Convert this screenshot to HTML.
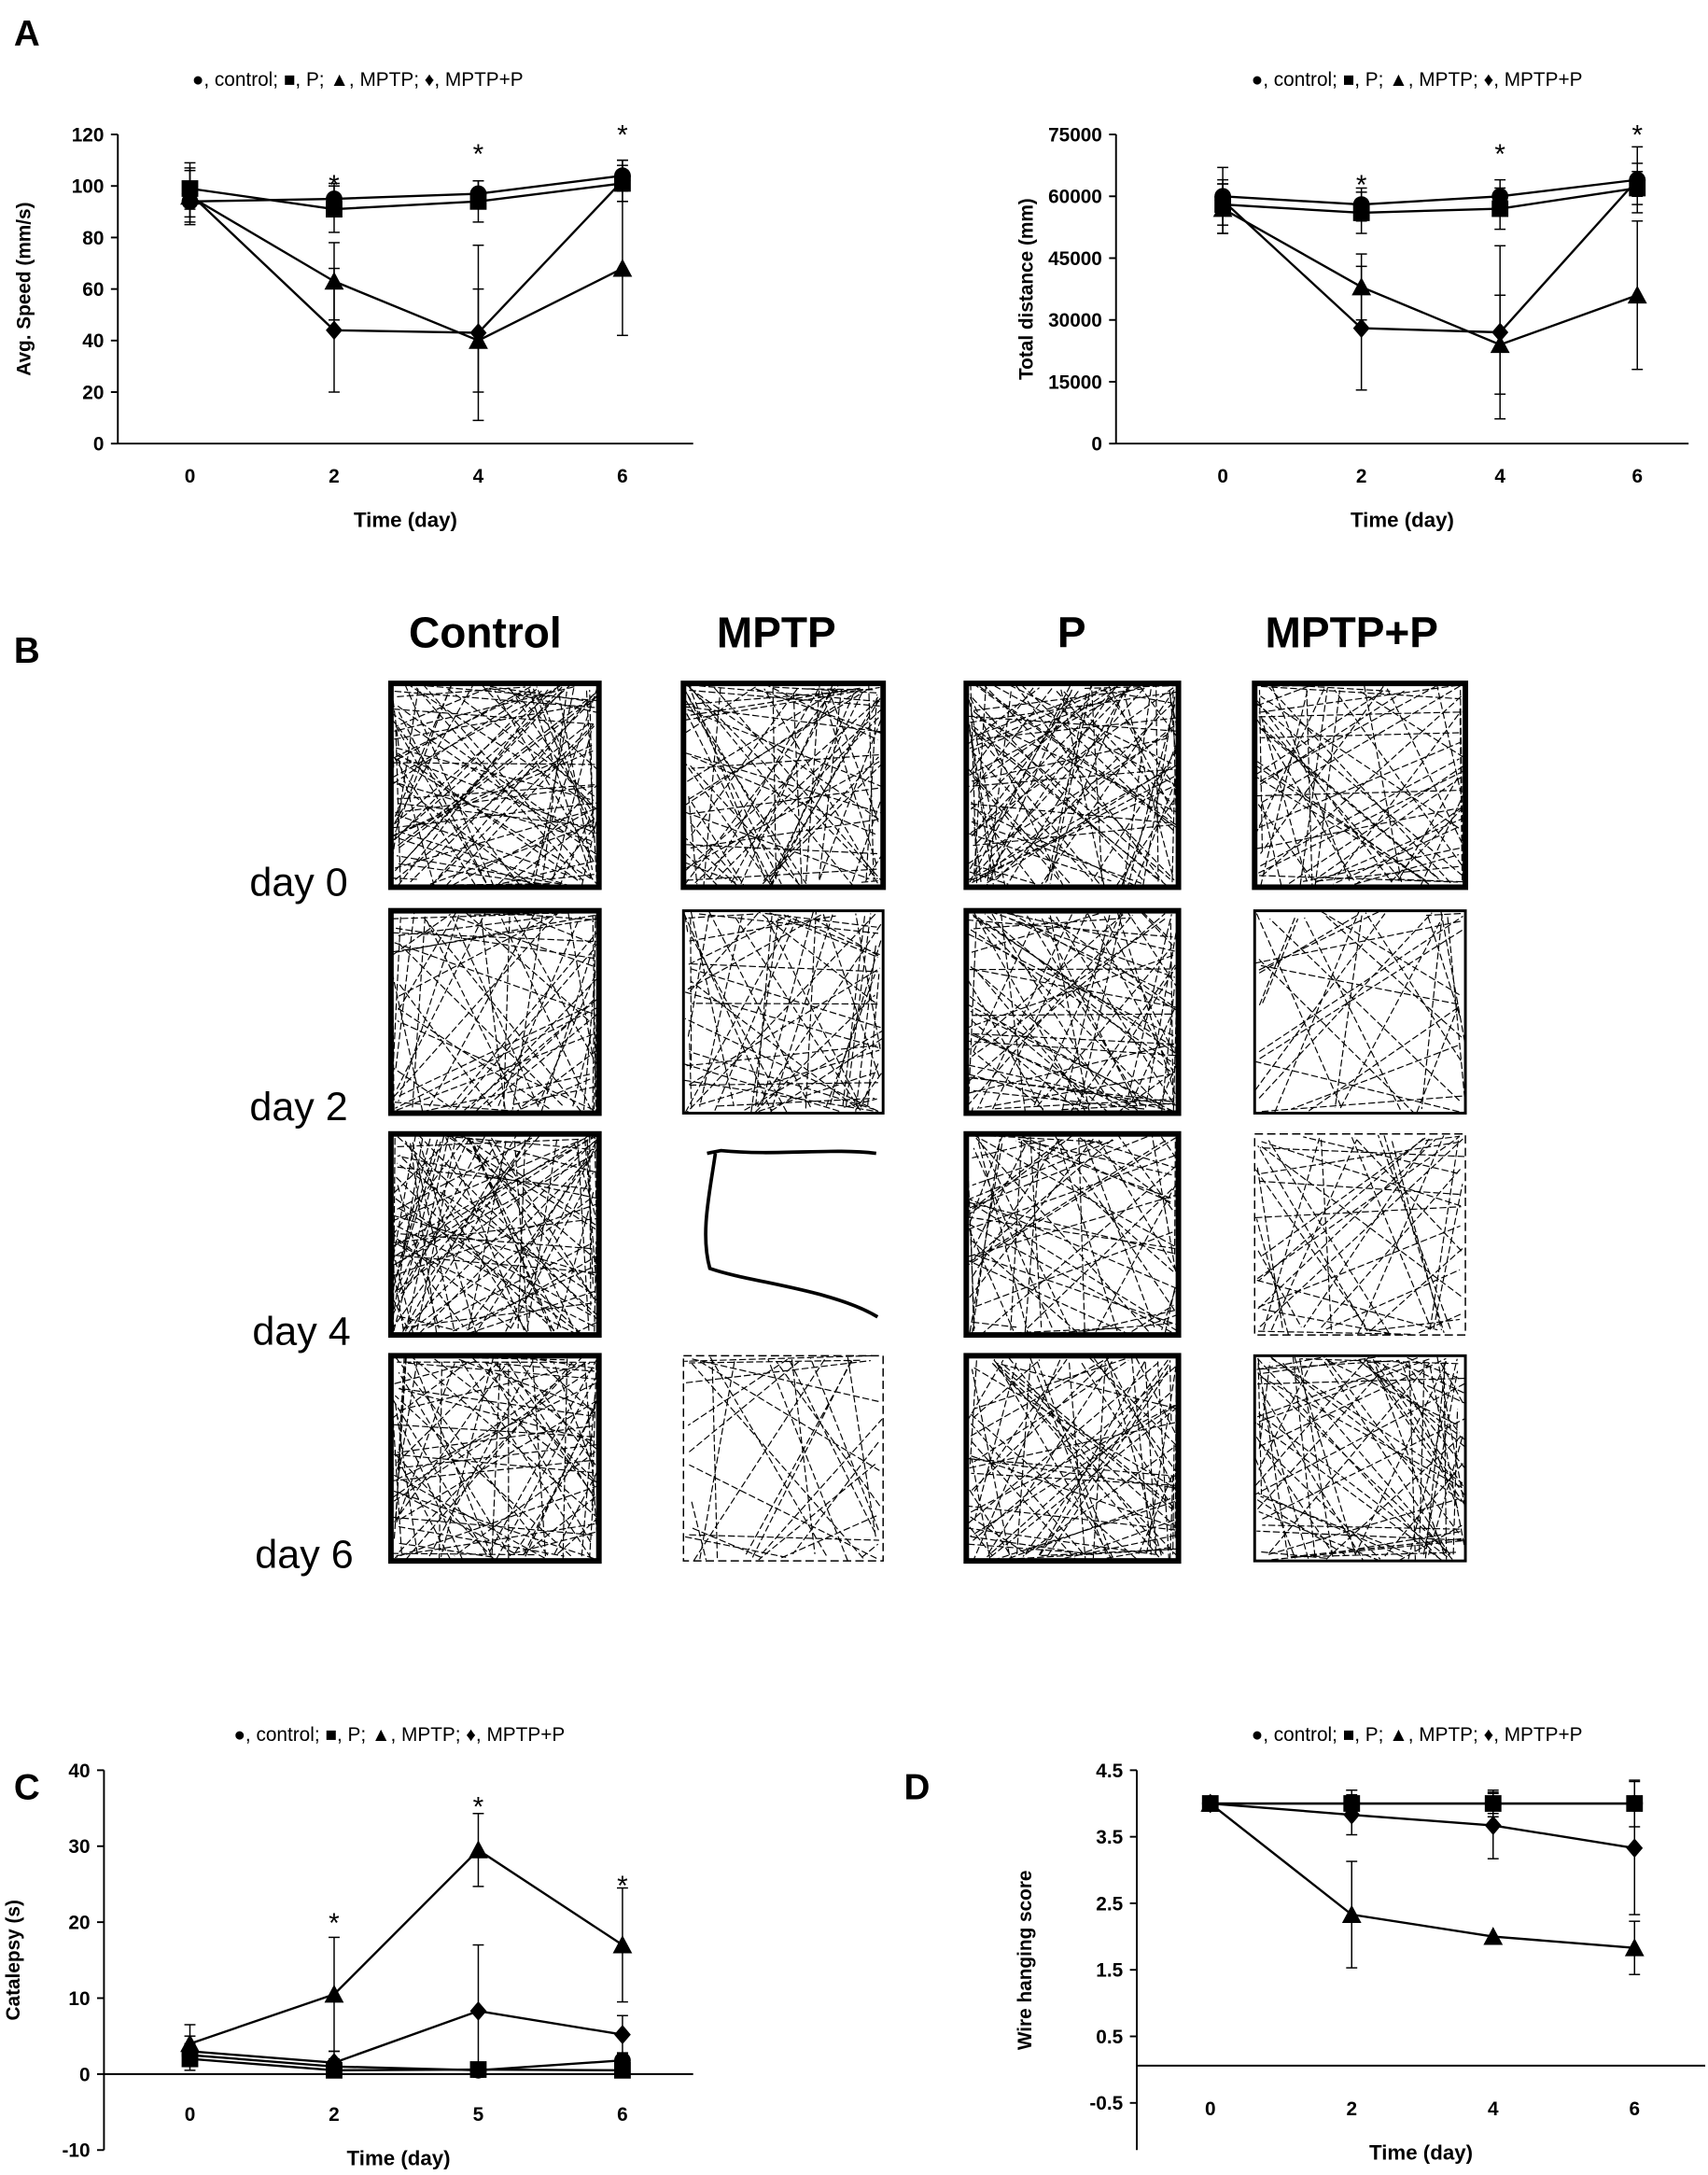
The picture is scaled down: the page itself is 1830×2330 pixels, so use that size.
<!DOCTYPE html>
<html><head><meta charset="utf-8"><style>
html,body{margin:0;padding:0;background:#fff}
svg{display:block}
text{font-family:"Liberation Sans",Arial,sans-serif}
</style></head><body>
<svg id="s" xmlns="http://www.w3.org/2000/svg" width="1830" height="2330" viewBox="0 0 1232 1569" preserveAspectRatio="none">
<rect width="1232" height="1569" fill="#fff"/>
<text x="10" y="33" font-size="26" font-weight="bold">A</text>
<text x="10" y="478" font-size="26" font-weight="bold">B</text>
<text x="10" y="1298" font-size="26" font-weight="bold">C</text>
<text x="652" y="1298" font-size="26" font-weight="bold">D</text>
<text x="350" y="467" font-size="31" font-weight="bold" text-anchor="middle">Control</text>
<text x="560" y="467" font-size="31" font-weight="bold" text-anchor="middle">MPTP</text>
<text x="773" y="467" font-size="31" font-weight="bold" text-anchor="middle">P</text>
<text x="975" y="467" font-size="31" font-weight="bold" text-anchor="middle">MPTP+P</text>
<text x="180" y="646" font-size="29">day 0</text>
<text x="180" y="808" font-size="29">day 2</text>
<text x="182" y="970" font-size="29">day 4</text>
<text x="184" y="1131" font-size="29">day 6</text>
<g id="g"></g>
</svg>
<script>
var out='';
function T(x,y,t,o){o=o||{};out+='<text x="'+x+'" y="'+y+'" font-size="'+(o.fs||14)+'" '+(o.b?'font-weight="bold" ':'')+'text-anchor="'+(o.a||'middle')+'"'+(o.r?' transform="rotate(-90 '+x+' '+y+')"':'')+'>'+t+'</text>';}
function L(x1,y1,x2,y2,w){out+='<line x1="'+x1+'" y1="'+y1+'" x2="'+x2+'" y2="'+y2+'" stroke="#000" stroke-width="'+(w||1.3)+'"/>';}
function M(x,y,k){
 if(k=='c')out+='<circle cx="'+x+'" cy="'+y+'" r="6"/>';
 else if(k=='s')out+='<rect x="'+(x-6)+'" y="'+(y-6)+'" width="12" height="12"/>';
 else if(k=='t')out+='<polygon points="'+x+','+(y-7)+' '+(x+7)+','+(y+6)+' '+(x-7)+','+(y+6)+'"/>';
 else out+='<polygon points="'+x+','+(y-7)+' '+(x+6)+','+y+' '+x+','+(y+7)+' '+(x-6)+','+y+'"/>';}
function chart(c){
 var ax=c.ax,top=c.top,bot=c.bot;
 var Y=function(v){return top+(c.ymax-v)/(c.ymax-c.ymin)*(bot-top);};
 L(ax,top,ax,c.axBot||bot);
 L(ax,Y(c.xAt),c.xEnd,Y(c.xAt));
 c.yt.forEach(function(v){var y=Y(v);L(ax-5,y,ax,y);T(ax-10,y+5,v,{a:'end',b:1});});
 c.xs.forEach(function(x,i){T(x,c.xlY||(Y(c.xAt)+28),c.xl[i],{b:1});});
 T((ax+c.xEnd)/2,c.tY,'Time (day)',{b:1,fs:15});
 T(c.ytx,(top+(c.axBot||bot))/2,c.ytitle,{b:1,r:1,fs:14});
 T(c.legx,c.legy,'●, control; ■, P; ▲, MPTP; ♦, MPTP+P',{fs:14});
 c.series.forEach(function(s){
  var pts=s.v.map(function(v,i){return c.xs[i]+','+Y(v);}).join(' ');
  out+='<polyline points="'+pts+'" fill="none" stroke="#000" stroke-width="1.6"/>';
  s.v.forEach(function(v,i){var e=s.e[i];if(e){var x=c.xs[i];L(x,Y(v-e),x,Y(v+e),1);L(x-4,Y(v-e),x+4,Y(v-e),1);L(x-4,Y(v+e),x+4,Y(v+e),1);}M(c.xs[i],Y(v),s.k);});
 });
 (c.stars||[]).forEach(function(s){T(s[0],s[1],'*',{fs:20});});
}
chart({ax:85,top:97,bot:320,ymin:0,ymax:120,xAt:0,xEnd:500,yt:[0,20,40,60,80,100,120],xs:[137,241,345,449],xl:[0,2,4,6],tY:380,ytx:22,ytitle:'Avg. Speed (mm/s)',legx:258,legy:62,
 series:[{k:'c',v:[94,95,97,104],e:[6,6,5,6]},{k:'s',v:[99,91,94,101],e:[8,9,8,7]},{k:'t',v:[96,63,40,68],e:[10,15,20,26]},{k:'d',v:[97,44,43,102],e:[12,24,34,8]}],
 stars:[[241,140],[345,118],[449,104]]});
chart({ax:805,top:97,bot:320,ymin:0,ymax:75000,xAt:0,xEnd:1218,yt:[0,15000,30000,45000,60000,75000],xs:[882,982,1082,1181],xl:[0,2,4,6],tY:380,ytx:745,ytitle:'Total distance (mm)',legx:1022,legy:62,
 series:[{k:'c',v:[60000,58000,60000,64000],e:[4000,4000,4000,4000]},{k:'s',v:[58000,56000,57000,62000],e:[5000,5000,5000,4000]},{k:'t',v:[57000,38000,24000,36000],e:[6000,8000,12000,18000]},{k:'d',v:[59000,28000,27000,64000],e:[8000,15000,21000,8000]}],
 stars:[[982,140],[1082,118],[1181,104]]});
chart({ax:75,top:1277,bot:1551,ymin:-10,ymax:40,xAt:0,xEnd:500,yt:[-10,0,10,20,30,40],xs:[137,241,345,449],xl:[0,2,5,6],xlY:1530,tY:1562,ytx:14,ytitle:'Catalepsy (s)',legx:288,legy:1256,
 series:[{k:'c',v:[2.5,1,0.5,1.8],e:[1.5,1,0.5,1]},{k:'s',v:[2,0.5,0.6,0.5],e:[1.5,0.5,0.5,0.5]},{k:'t',v:[4,10.5,29.5,17],e:[2.5,7.5,4.8,7.5]},{k:'d',v:[3,1.5,8.3,5.2],e:[2,1.5,8.7,2.5]}],
 stars:[[241,1394],[345,1310],[449,1367]]});
chart({ax:820,top:1277,bot:1517,axBot:1551,ymin:-0.5,ymax:4.5,xAt:0.06,xEnd:1230,yt:[-0.5,0.5,1.5,2.5,3.5,4.5],xs:[873,975,1077,1179],xl:[0,2,4,6],xlY:1526,tY:1558,ytx:744,ytitle:'Wire hanging score',legx:1022,legy:1256,
 series:[{k:'c',v:[4,4,4,4],e:[0,0.2,0.2,0]},{k:'s',v:[4,4,4,4],e:[0,0.2,0.15,0.35]},{k:'t',v:[4,2.33,2,1.83],e:[0,0.8,0,0.4]},{k:'d',v:[4,3.83,3.67,3.33],e:[0,0.3,0.5,1]}]});
var seed=7;function R(){seed=(seed*16807)%2147483647;return seed/2147483647;}
var cols=[[282,432],[493,637],[697,850],[905,1057]],rows=[[493,640],[657,803],[818,963],[978,1126]];
var dens=[[90,70,90,60],[60,60,75,30],[90,0,65,40],[80,30,75,75]];
rows.forEach(function(r,ri){cols.forEach(function(c,ci){
 var n=dens[ri][ci];
 var x0=c[0],x1=c[1],y0=r[0],y1=r[1];
 if(n==0){out+='<path d="M510,832 L520,830 C560,834 600,828 632,832 M516,832 C512,860 505,890 512,915 C540,925 600,930 633,950" fill="none" stroke="#000" stroke-width="2.5"/>';return;}
 var bw=(ri==0||ci==2||ci==0)?4:2;
 if(!(ci==1&&ri==3)&&!(ci==3&&ri==2))out+='<rect x="'+x0+'" y="'+y0+'" width="'+(x1-x0)+'" height="'+(y1-y0)+'" fill="none" stroke="#000" stroke-width="'+bw+'"/>';
 else out+='<rect x="'+x0+'" y="'+y0+'" width="'+(x1-x0)+'" height="'+(y1-y0)+'" fill="none" stroke="#000" stroke-width="1" stroke-dasharray="6 3"/>';
 var d='';for(var i=0;i<n;i++){
  var e1=Math.floor(R()*4),e2=(e1+1+Math.floor(R()*3))%4;
  function P(e){var t=R();if(e==0)return[x0+t*(x1-x0),y0+R()*6];if(e==1)return[x1-R()*6,y0+t*(y1-y0)];if(e==2)return[x0+t*(x1-x0),y1-R()*6];return[x0+R()*6,y0+t*(y1-y0)];}
  var p1=P(e1),p2=P(e2);
  d+='M'+p1[0].toFixed(1)+','+p1[1].toFixed(1)+'L'+p2[0].toFixed(1)+','+p2[1].toFixed(1);}
 out+='<path d="'+d+'" fill="none" stroke="#000" stroke-width="0.8" stroke-dasharray="5 2"/>';
});});
document.getElementById('g').innerHTML=out;
</script>
</body></html>
